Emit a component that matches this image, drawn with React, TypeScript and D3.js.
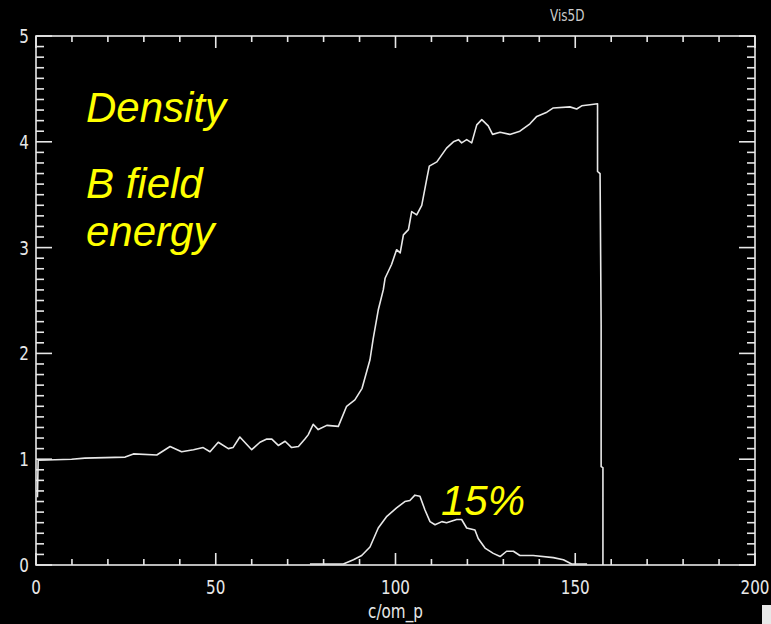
import React from "react";
import * as d3 from "d3";

const xTickValues = [0, 50, 100, 150, 200];
const yTickValues = [0, 1, 2, 3, 4, 5];
const xAxisLabel = "c/om_p";
const headerText = "Vis5D";
const annotationLabels = ["Density", "B field", "energy"];
const peakLabel = "15%";

const densityX = [0.4, 0.6, 9.9, 13.6, 24.8, 27.1, 33.6, 37.3, 40.5, 43.8, 46.5, 48.4, 50.7, 53.5, 54.8, 56.7, 60.0, 62.3, 64.2, 65.6, 67.4, 69.3, 71.1, 73.0, 74.8, 75.7, 77.1, 78.5, 80.9, 84.1, 86.4, 88.7, 90.7, 92.9, 93.8, 95.2, 96.6, 97.1, 98.9, 100.3, 101.3, 102.2, 103.6, 104.5, 105.9, 107.3, 108.7, 109.4, 111.5, 114.2, 116.1, 117.5, 118.4, 119.8, 121.2, 122.6, 124.0, 125.8, 127.0, 129.1, 131.8, 134.6, 137.4, 139.3, 142.1, 143.9, 148.5, 150.4, 151.8, 154.1, 156.2, 156.2, 156.9, 157.2, 157.2, 157.7, 157.7];
const densityY = [0.64, 0.99, 1.0, 1.01, 1.02, 1.05, 1.04, 1.12, 1.07, 1.09, 1.11, 1.07, 1.16, 1.10, 1.11, 1.21, 1.09, 1.16, 1.19, 1.19, 1.13, 1.17, 1.11, 1.12, 1.19, 1.23, 1.33, 1.28, 1.32, 1.31, 1.50, 1.56, 1.67, 1.94, 2.14, 2.41, 2.60, 2.71, 2.84, 2.98, 2.95, 3.12, 3.17, 3.34, 3.31, 3.40, 3.65, 3.77, 3.81, 3.94, 4.00, 4.02, 3.99, 4.02, 3.99, 4.16, 4.21, 4.15, 4.07, 4.09, 4.07, 4.10, 4.17, 4.24, 4.28, 4.32, 4.33, 4.31, 4.34, 4.35, 4.36, 3.72, 3.70, 2.27, 0.93, 0.92, 0.0];

const bfieldX = [76.2, 85.5, 88.3, 90.6, 92.9, 95.2, 97.6, 100.3, 102.6, 104.0, 105.4, 106.8, 108.2, 109.6, 111.0, 112.9, 114.2, 117.0, 118.4, 119.8, 122.1, 123.0, 124.9, 127.2, 129.1, 130.9, 132.8, 134.6, 138.3, 143.9, 146.7, 149.0, 153.3];
const bfieldY = [0.01, 0.01, 0.05, 0.09, 0.17, 0.35, 0.46, 0.54, 0.60, 0.61, 0.66, 0.65, 0.52, 0.41, 0.38, 0.41, 0.40, 0.43, 0.43, 0.35, 0.33, 0.25, 0.16, 0.11, 0.08, 0.13, 0.13, 0.09, 0.09, 0.07, 0.05, 0.01, 0.01];

const W = 771;
const H = 624;
const left = 36, right = 755, top = 36, bottom = 565;

export default function App() {
  const x = d3.scaleLinear().domain([0, 200]).range([left, right]);
  const y = d3.scaleLinear().domain([0, 5]).range([bottom, top]);

  const line = d3
    .line<[number, number]>()
    .x((d) => x(d[0]))
    .y((d) => y(d[1]));

  const densityPath = line(densityX.map((v, i) => [v, densityY[i]]) as [number, number][]) || "";
  const bfieldPath = line(bfieldX.map((v, i) => [v, bfieldY[i]]) as [number, number][]) || "";

  const xMinor = d3.range(0, 201, 10);
  const yMinor = d3.range(0, 50.5, 1).map((v) => v / 10);

  const stroke = "#e8e8e8";
  const labelFont = "'Liberation Sans Narrow', 'DejaVu Sans', sans-serif";

  return (
    <svg
      width={W}
      height={H}
      style={{ position: "fixed", left: 0, top: 0, background: "#000" }}
    >
      <rect x={0} y={0} width={W} height={H} fill="#000" />
      <rect
        x={left}
        y={top}
        width={right - left}
        height={bottom - top}
        fill="none"
        stroke={stroke}
        strokeWidth={1.6}
      />
      {xMinor.map((v) => {
        const major = v % 50 === 0;
        const len = major ? 12 : 6;
        return (
          <g key={"xt" + v}>
            <line x1={x(v)} x2={x(v)} y1={bottom} y2={bottom - len} stroke={stroke} strokeWidth={1.6} />
            <line x1={x(v)} x2={x(v)} y1={top} y2={top + len} stroke={stroke} strokeWidth={1.6} />
          </g>
        );
      })}
      {yMinor.map((v) => {
        const major = Math.abs(v - Math.round(v)) < 1e-6;
        const len = major ? 16 : 8;
        return (
          <g key={"yt" + v}>
            <line x1={left} x2={left + len} y1={y(v)} y2={y(v)} stroke={stroke} strokeWidth={1.6} />
            <line x1={right} x2={right - len} y1={y(v)} y2={y(v)} stroke={stroke} strokeWidth={1.6} />
          </g>
        );
      })}
      {xTickValues.map((v) => (
        <g key={"xl" + v} transform={`translate(${x(v)},${594}) scale(0.8,1)`}>
          <text textAnchor="middle" fill={stroke} fontFamily={labelFont} fontSize={19}>
            {v}
          </text>
        </g>
      ))}
      {yTickValues.map((v) => (
        <g key={"yl" + v} transform={`translate(${24},${y(v) + 7}) scale(0.8,1)`}>
          <text textAnchor="middle" fill={stroke} fontFamily={labelFont} fontSize={19}>
            {v}
          </text>
        </g>
      ))}
      <g transform={`translate(${x(100)},${618}) scale(0.8,1)`}>
        <text textAnchor="middle" fill={stroke} fontFamily={labelFont} fontSize={19}>
          {xAxisLabel}
        </text>
      </g>
      <g transform={`translate(${550},${21}) scale(0.75,1)`}>
        <text fill="#cccccc" fontFamily={labelFont} fontSize={16}>
          {headerText}
        </text>
      </g>
      <path d={densityPath} fill="none" stroke={stroke} strokeWidth={1.6} strokeLinejoin="round" />
      <path d={bfieldPath} fill="none" stroke={stroke} strokeWidth={1.6} strokeLinejoin="round" />
      <g fill="#ffff00" fontFamily="'Liberation Sans', Arial, sans-serif" fontStyle="italic" fontSize={42}>
        <text x={86} y={122}>{annotationLabels[0]}</text>
        <text x={86} y={198}>{annotationLabels[1]}</text>
        <text x={86} y={246}>{annotationLabels[2]}</text>
        <text x={441} y={515}>{peakLabel}</text>
      </g>
      <rect x={762} y={605} width={9} height={19} fill={stroke} />
    </svg>
  );
}
